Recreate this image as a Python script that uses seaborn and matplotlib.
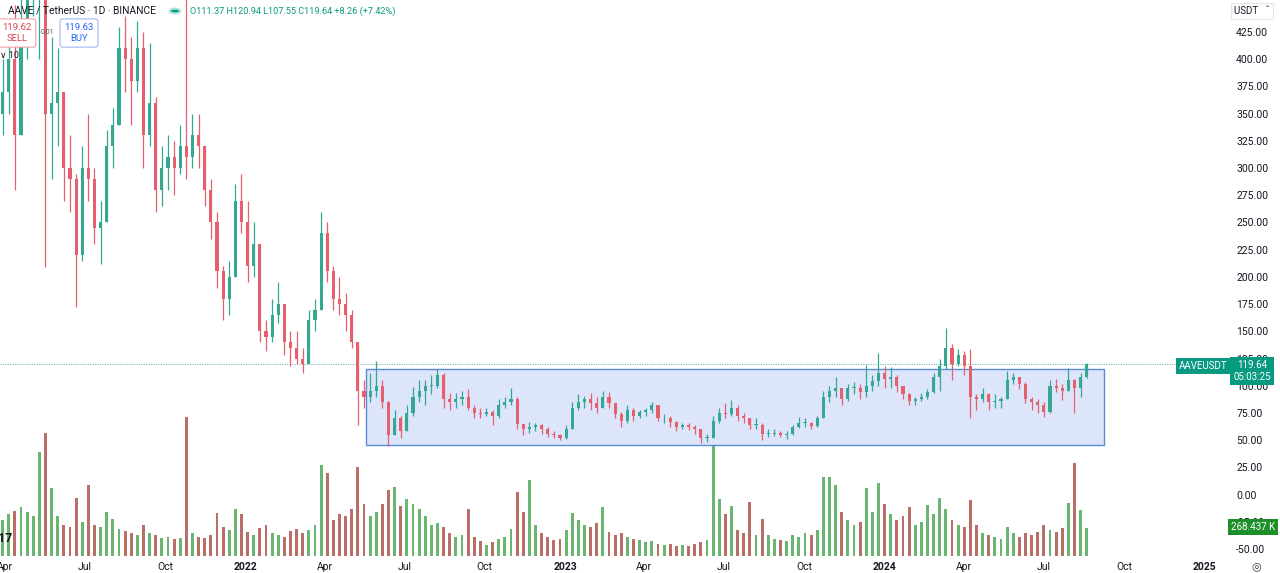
import numpy as np
import pandas as pd
import matplotlib
matplotlib.use("Agg")
import matplotlib.pyplot as plt
import matplotlib.dates as mdates
from matplotlib.patches import Rectangle, Circle
import seaborn as sns

sns.set_theme(style="white")
plt.rcParams['font.family'] = ['Roboto', 'DejaVu Sans']

# ---------------- data (weekly) ----------------
first_week = "2021-03-29"
first_open = 350

closes = [
    370, 400, 330, 430, 460, 520, 520, 350, 360, 370,
    300, 290, 220, 300, 290, 245, 250, 320, 340, 410,
    400, 380, 410, 330, 360, 280, 300, 310, 300, 320,
    310, 330, 320, 280, 250, 205, 180, 200, 270, 250,
    210, 230, 150, 145, 165, 175, 140, 135, 125, 120,
    160, 170, 240, 205, 180, 175, 165, 140, 95, 90,
    95, 100, 85, 55, 70, 58, 75, 90, 95, 100,
    100, 110, 88, 85, 88, 90, 80, 75, 74, 76,
    72, 82, 85, 88, 65, 60, 62, 64, 60, 56,
    55, 52, 60, 80, 85, 88, 84, 80, 90, 84,
    74, 68, 78, 72, 76, 78, 82, 70, 70, 67,
    62, 64, 62, 60, 52, 52, 68, 75, 74, 80,
    72, 70, 64, 64, 56, 56, 57, 55, 56, 62,
    66, 66, 63, 70, 90, 95, 98, 88, 98, 98,
    94, 100, 104, 112, 106, 108, 100, 92, 86, 88,
    90, 94, 108, 118, 135, 120, 128, 118, 90, 88,
    92, 85, 86, 88, 105, 108, 102, 88, 85, 82,
    76, 100, 98, 95, 105, 98, 108, 119.64,
]

highs = [
    400, 430, 450, 470, 500, 560, 640, 660, 420, 410,
    370, 330, 295, 320, 350, 300, 270, 335, 355, 430,
    440, 420, 435, 425, 415, 365, 320, 330, 325, 340,
    470, 350, 350, 320, 290, 260, 210, 215, 285, 295,
    270, 250, 230, 160, 180, 195, 175, 150, 150, 135,
    170, 180, 260, 250, 210, 200, 185, 170, 140, 105,
    112, 123, 105, 86, 78, 72, 82, 99, 105, 105,
    110, 115, 112, 93, 93, 95, 97, 82, 80, 80,
    78, 88, 90, 98, 90, 65, 67, 66, 65, 62,
    58, 56, 64, 85, 92, 91, 93, 90, 95, 94,
    84, 76, 82, 80, 78, 80, 85, 82, 74, 72,
    68, 66, 66, 64, 60, 56, 72, 80, 84, 87,
    82, 75, 70, 70, 66, 60, 60, 58, 58, 64,
    71, 70, 67, 72, 95, 100, 108, 98, 102, 103,
    102, 119, 110, 130, 118, 117, 110, 100, 93, 90,
    93, 97, 112, 125, 153, 138, 134, 132, 134, 92,
    98, 93, 92, 90, 114, 112, 108, 103, 90, 88,
    85, 105, 106, 102, 116, 106, 112, 120.94,
]

lows = [
    330, 350, 280, 330, 400, 440, 400, 209, 290, 320,
    270, 260, 172, 215, 270, 230, 212, 250, 300, 340,
    370, 340, 370, 300, 320, 260, 265, 280, 275, 295,
    290, 300, 300, 265, 235, 190, 160, 165, 200, 240,
    195, 200, 140, 132, 140, 158, 128, 118, 120, 112,
    120, 150, 170, 195, 170, 165, 150, 135, 64, 80,
    85, 90, 80, 45, 55, 52, 58, 72, 85, 82,
    92, 98, 80, 78, 80, 82, 78, 70, 70, 72,
    64, 70, 80, 82, 60, 55, 57, 58, 56, 53,
    52, 50, 51, 60, 78, 80, 78, 75, 80, 80,
    70, 62, 66, 68, 70, 72, 75, 68, 66, 62,
    58, 60, 59, 56, 47, 48, 52, 66, 70, 72,
    68, 66, 60, 60, 50, 53, 54, 53, 51, 55,
    61, 62, 60, 62, 70, 85, 90, 82, 86, 92,
    88, 90, 95, 100, 98, 98, 94, 88, 82, 82,
    86, 88, 93, 95, 115, 105, 118, 110, 70, 78,
    85, 78, 80, 80, 88, 102, 97, 84, 78, 75,
    71, 75, 94, 87, 95, 75, 90, 107.55,
]

volumes_k = [
    350, 400, 430, 470, 420, 380, 1000, 1180, 650, 380,
    300, 280, 560, 330, 680, 300, 280, 420, 360, 260,
    240, 220, 200, 300, 220, 200, 170, 180, 160, 170,
    1330, 220, 180, 170, 200, 410, 280, 250, 450, 400,
    230, 200, 270, 300, 220, 200, 180, 240, 260, 220,
    250, 300, 870, 800, 350, 400, 380, 450, 850, 500,
    380, 420, 500, 630, 660, 480, 550, 500, 450, 380,
    300, 320, 280, 220, 180, 200, 450, 180, 140, 110,
    130, 160, 180, 260, 610, 420, 730, 300, 220, 180,
    150, 160, 250, 410, 350, 300, 280, 320, 470, 230,
    200, 220, 180, 160, 150, 130, 140, 120, 110, 120,
    100, 110, 100, 120, 130, 150, 1080, 550, 400, 480,
    250, 220, 520, 200, 360, 200, 160, 150, 140, 200,
    180, 220, 200, 250, 760, 760, 680, 420, 350, 300,
    330, 650, 420, 700, 500, 400, 350, 380, 470, 300,
    330, 490, 400, 560, 450, 350, 300, 280, 540, 300,
    220, 200, 180, 160, 280, 220, 180, 220, 200, 230,
    300, 250, 230, 270, 510, 890, 440, 268.437,
]

x_tick_dates = ["2021-04-01", "2021-07-01", "2021-10-01", "2022-01-01",
                "2022-04-01", "2022-07-01", "2022-10-01", "2023-01-01",
                "2023-04-01", "2023-07-01", "2023-10-01", "2024-01-01",
                "2024-04-01", "2024-07-01", "2024-10-01", "2025-01-01"]
x_tick_labels = ["Apr", "Jul", "Oct", "2022", "Apr", "Jul", "Oct", "2023",
                 "Apr", "Jul", "Oct", "2024", "Apr", "Jul", "Oct", "2025"]
y_ticks = list(range(-50, 426, 25))

box_start, box_end = "2022-05-18", "2024-09-08"
box_low, box_high = 45.4, 115.3
last_price = 119.64

# ---------------- figure ----------------
W, H = 1280, 573
fig = plt.figure(figsize=(W / 100, H / 100), dpi=100)
fig.patch.set_facecolor("white")
rect = [0, (H - 556) / H, 1225 / W, 556 / H]
axv = fig.add_axes(rect)
ax = fig.add_axes(rect, sharex=axv)
ax.patch.set_alpha(0)

dates = pd.date_range(first_week, periods=len(closes), freq="7D")
x = mdates.date2num(dates)
c = np.array(closes, float)
o = np.concatenate([[first_open], c[:-1]])
hi = np.maximum(np.array(highs, float), np.maximum(o, c))
lo = np.minimum(np.array(lows, float), np.minimum(o, c))
up = c >= o

UP, DN = "#35a892", "#e5606c"
col = np.where(up, UP, DN)

# volume
vcol = np.where(up, "#45a34b", "#a84a42")
axv.bar(x, volumes_k, width=3.2, color=vcol, alpha=0.8, linewidth=0)
axv.set_ylim(0, 556 * 9.6)
axv.axis("off")

# box
x0 = mdates.date2num(pd.Timestamp(box_start))
x1 = mdates.date2num(pd.Timestamp(box_end))
ax.add_patch(Rectangle((x0, box_low), x1 - x0, box_high - box_low,
                       facecolor="#dde5fb", edgecolor="#5b8ad6", lw=1.0, zorder=1))

# candles
ax.vlines(x, lo, hi, colors=col, lw=0.9, zorder=3)
body = np.maximum(np.abs(c - o), 0.6)
ax.bar(x, body, bottom=np.minimum(o, c), width=3.6, color=col, linewidth=0, zorder=4)

# last price line
ax.axhline(last_price, color="#4fb3a8", lw=0.7, ls=(0, (1, 1.5)), zorder=2)

xl0 = mdates.date2num(pd.Timestamp("2021-03-26"))
ax.set_xlim(xl0, xl0 + 1400)
ax.set_ylim(-56.4, 454.4)

ax.yaxis.tick_right()
ax.set_yticks(y_ticks)
ax.set_yticklabels([f"{v:.2f}" for v in y_ticks])
ax.tick_params(axis="y", length=0, pad=8, labelsize=7.5, labelcolor="#131722")
ax.set_xticks([mdates.date2num(pd.Timestamp(d)) for d in x_tick_dates])
ax.set_xticklabels(x_tick_labels)
ax.tick_params(axis="x", length=0, pad=4, labelsize=7.5, labelcolor="#131722")
for t in ax.get_xticklabels():
    if t.get_text().isdigit():
        t.set_fontweight("bold")
for s in ax.spines.values():
    s.set_visible(False)
ax.grid(False)


def P(px, py):
    return px / W, 1 - py / H


# header
fig.text(*P(8, 11), "AAVE / TetherUS · 1D · BINANCE", fontsize=7.4, color="#131722", va="center")
fig.patches.append(Circle(P(175, 11), 0.0042, transform=fig.transFigure,
                          facecolor="#089981", edgecolor="#b7e3d9", lw=1.5))
fig.text(*P(190, 11), "O111.37 H120.94 L107.55 C119.64 +8.26 (+7.42%)",
         fontsize=6.6, color="#089981", va="center")

# sell / buy boxes
fig.text(*P(17, 33), "119.62\nSELL", fontsize=6.8, color="#e0404e", ha="center", va="center",
         linespacing=1.25,
         bbox=dict(boxstyle="round,pad=0.45,rounding_size=0.3", fc="white", ec="#f0a0a8", lw=0.8))
fig.text(*P(47, 33), "0.01", fontsize=5, color="#555", ha="center", va="center")
fig.text(*P(79, 33), "119.63\nBUY", fontsize=6.8, color="#2962ff", ha="center", va="center",
         linespacing=1.25,
         bbox=dict(boxstyle="round,pad=0.45,rounding_size=0.3", fc="white", ec="#9fb6f5", lw=0.8))
fig.text(*P(0, 55), "∨ 10", fontsize=6.5, color="#131722", va="center")

# right side labels
fig.text(*P(1234, 11), "USDT   ˇ", fontsize=7, color="#131722", va="center",
         bbox=dict(boxstyle="square,pad=0.35", fc="white", ec="#e6e6e6", lw=0.8))
fig.text(*P(1203, 366), "AAVEUSDT", fontsize=7, color="white", va="center", ha="center",
         bbox=dict(boxstyle="square,pad=0.3", fc="#089981", ec="none"))
fig.text(*P(1252, 371), "119.64\n05:03:25", fontsize=7, color="white", va="center", ha="center",
         linespacing=1.2, bbox=dict(boxstyle="square,pad=0.3", fc="#089981", ec="none"))
fig.text(*P(1253, 527), "268.437 K", fontsize=7, color="white", va="center", ha="center",
         bbox=dict(boxstyle="square,pad=0.3", fc="#1d8f2a", ec="none"))
fig.text(*P(-2, 539), "17", fontsize=9, color="#131722", fontweight="bold", va="center")
fig.text(*P(1256, 566), "◎", fontsize=8, color="#333", va="center", ha="center")

fig.savefig("out.png", dpi=100, facecolor="white")
